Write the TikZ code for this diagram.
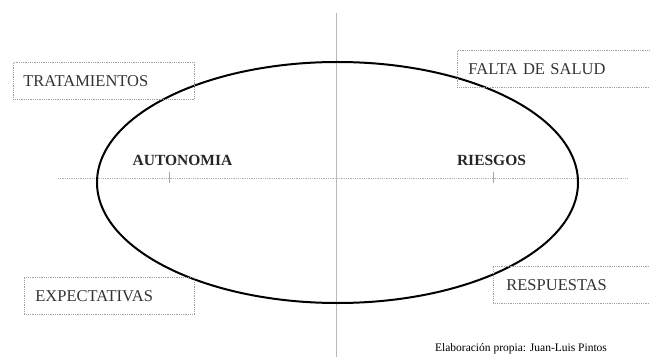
\documentclass[tikz,border=0pt]{standalone}
\usepackage{fontspec}
\setmainfont{Liberation Serif}
\begin{document}
\begin{tikzpicture}[x=1pt,y=-1pt,
  lbox/.style={draw=gray!75, line width=0.8pt, densely dotted, anchor=north west, inner xsep=10pt, inner ysep=0pt, align=left, font=\fontsize{16.5}{18}\selectfont, text=black!80},
  axislbl/.style={font=\bfseries\fontsize{15.5}{17}\selectfont, text=black!85},
  axis/.style={draw=gray!60, line width=0.8pt, densely dotted},
  vaxis/.style={draw=gray!55, line width=0.9pt},
  tick/.style={draw=gray!70, line width=0.7pt}]
\useasboundingbox (0,0) rectangle (650,358);
% axes
\coordinate (hl) at (58,178);
\coordinate (hr) at (628,178);
\coordinate (vt) at (336,13);
\coordinate (vb) at (336,357);
\draw[axis] (hl) -- (hr);
\draw[vaxis] (vt) -- (vb);
\coordinate (t1a) at (169,172); \coordinate (t1b) at (169,183);
\coordinate (t2a) at (493,172); \coordinate (t2b) at (493,183);
\draw[tick] (t1a) -- (t1b);
\draw[tick] (t2a) -- (t2b);
% ellipse
\draw[line width=2pt] (337.5,182.5) ellipse [x radius=240.5, y radius=120.5];
% axis labels
\node[axislbl] (auto) at (182.5,160) {AUTONOMIA};
\node[axislbl] (ries) at (491.5,160) {RIESGOS};
% boxes
\node[lbox, minimum width=181pt, minimum height=37pt, text width=161pt, inner xsep=10pt] (trat) at (13,62) {TRATAMIENTOS};
\node[lbox, minimum width=200pt, minimum height=37pt, text width=178pt, inner xsep=11pt] (falta) at (457,50) {FALTA DE SALUD};
\node[lbox, minimum width=170pt, minimum height=37pt, text width=148pt, inner xsep=11pt] (expe) at (24,277) {EXPECTATIVAS};
\node[lbox, minimum width=170pt, minimum height=37pt, text width=144pt, inner xsep=13pt] (resp) at (493,266) {RESPUESTAS};
% credit
\node[font=\fontsize{11.5}{13}\selectfont, text=black] (cred) at (521,349) {Elaboración propia: Juan-Luis Pintos};
\end{tikzpicture}
\end{document}
